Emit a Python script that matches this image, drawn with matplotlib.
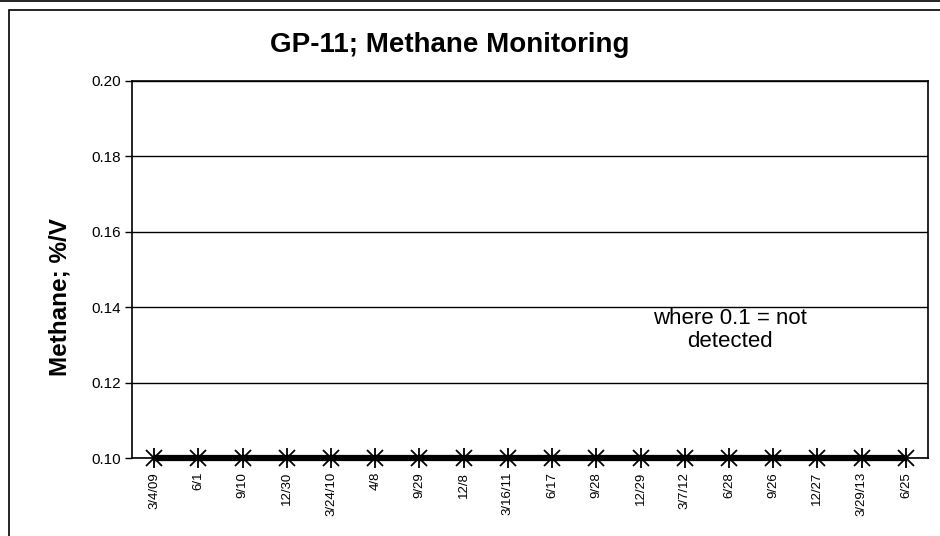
import matplotlib
matplotlib.use("Agg")
import matplotlib.pyplot as plt
from matplotlib.patches import Rectangle
from matplotlib.lines import Line2D

plt.rcParams['font.family'] = ['Liberation Sans', 'DejaVu Sans']

dates = ["3/4/09", "6/1", "9/10", "12/30", "3/24/10", "4/8", "9/29", "12/8",
         "3/16/11", "6/17", "9/28", "12/29", "3/7/12", "6/28", "9/26", "12/27",
         "3/29/13", "6/25"]
methane = [0.1] * 18
yticks = [0.10, 0.12, 0.14, 0.16, 0.18, 0.20]

W, H = 940, 536
fig = plt.figure(figsize=(W / 100, H / 100), dpi=100)
ax = fig.add_axes([132 / W, 1 - 458 / H, (928 - 132) / W, (458 - 81) / H])

x = list(range(len(dates)))
ax.plot(x, methane, color='black', lw=4.5, solid_capstyle='butt', zorder=5, clip_on=False)
ax.plot(x, methane, ls='none', marker='x', ms=11, mew=1.3, mec='black', zorder=6, clip_on=False)
ax.plot(x, methane, ls='none', marker='|', ms=15, mew=1.3, mec='black', zorder=6, clip_on=False)

ax.set_xlim(-0.5, len(dates) - 0.5)
ax.set_ylim(0.10, 0.20)
ax.set_yticks(yticks)
ax.set_yticklabels([f"{v:.2f}" for v in yticks], fontsize=11)
ax.yaxis.grid(True, color='black', lw=1)
ax.set_axisbelow(True)
ax.set_xticks(x)
ax.set_xticklabels(dates, rotation=90, fontsize=9.5, va='top')
ax.tick_params(axis='y', direction='out', length=5, width=1, pad=3)
ax.tick_params(axis='x', direction='inout', length=6, width=1, pad=7)
for s in ax.spines.values():
    s.set_linewidth(1.2)

fig.text(60 / W, 1 - 297 / H, "Methane; %/V", rotation=90, ha='center', va='center',
         fontsize=17.5, fontweight='bold')
fig.text(450 / W, 1 - 45 / H, "GP-11; Methane Monitoring", ha='center', va='center',
         fontsize=20, fontweight='bold')
fig.text(730 / W, 1 - 330 / H, "where 0.1 = not\ndetected", ha='center', va='center',
         fontsize=16, linespacing=1.1)

# outer frame
fig.add_artist(Rectangle((9 / W, -0.05), 1.2, 1 - 10 / H + 0.05, transform=fig.transFigure,
                         fill=False, ec='black', lw=1.2))
fig.add_artist(Line2D([0, 1], [1 - 1 / H, 1 - 1 / H], transform=fig.transFigure,
                      color='black', lw=1.2))

fig.savefig("out.png", dpi=100)
